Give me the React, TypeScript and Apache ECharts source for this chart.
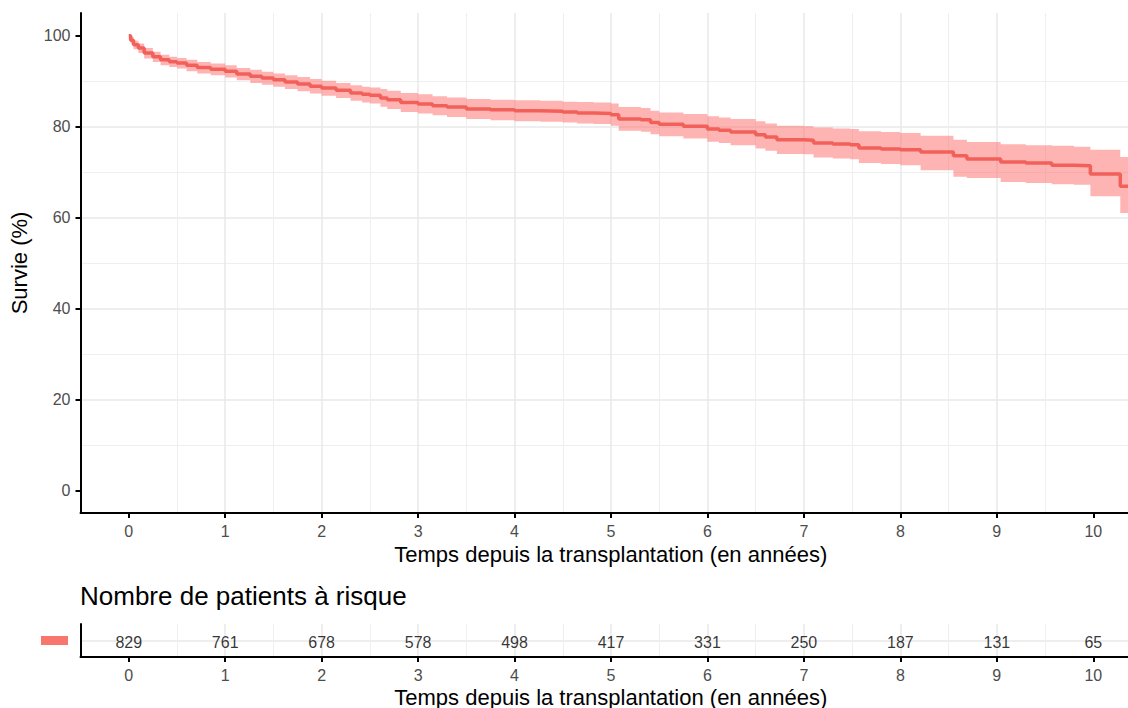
import React, { useEffect, useRef } from 'react';
import * as echarts from 'echarts';

// Kaplan-Meier estimate (%)
const times = [0, 0.02, 0.05, 0.1, 0.16, 0.25, 0.33, 0.42, 0.5, 0.6, 0.71, 0.85, 1.0, 1.12, 1.26, 1.38, 1.5, 1.62, 1.75, 1.88, 2.0, 2.15, 2.3, 2.42, 2.5, 2.61, 2.68, 2.82, 3.0, 3.15, 3.3, 3.5, 3.75, 4.0, 4.27, 4.5, 4.65, 4.82, 5.0, 5.08, 5.31, 5.41, 5.5, 5.75, 6.0, 6.12, 6.24, 6.5, 6.6, 6.72, 7.0, 7.1, 7.3, 7.48, 7.57, 7.8, 8.0, 8.21, 8.55, 8.69, 9.04, 9.3, 9.57, 9.8, 9.97, 10.28, 10.36];
const survival = [100, 99.0, 98.0, 97.3, 96.2, 95.4, 94.7, 94.3, 94.0, 93.5, 93.0, 92.6, 92.2, 91.6, 91.1, 90.7, 90.3, 89.8, 89.4, 88.9, 88.5, 88.0, 87.4, 87.1, 86.9, 86.3, 85.9, 85.3, 85.0, 84.6, 84.3, 83.9, 83.7, 83.5, 83.4, 83.2, 83.0, 82.9, 82.6, 81.7, 81.5, 80.9, 80.5, 80.1, 79.5, 79.2, 78.8, 78.2, 77.7, 77.1, 77.0, 76.4, 76.2, 76.0, 75.3, 75.1, 74.9, 74.4, 73.6, 72.9, 72.2, 72.0, 71.5, 71.4, 69.6, 66.9, 66.9];
const upperCI = [100, 99.7, 98.9, 98.3, 97.3, 96.5, 95.8, 95.4, 95.1, 94.7, 94.2, 93.9, 93.5, 92.9, 92.5, 92.1, 91.7, 91.3, 90.9, 90.5, 90.1, 89.6, 89.1, 88.8, 88.6, 88.3, 87.9, 87.4, 87.1, 86.7, 86.4, 86.1, 85.9, 85.8, 85.7, 85.5, 85.4, 85.3, 85.1, 84.3, 84.1, 83.5, 83.1, 82.8, 82.3, 82.0, 81.7, 81.2, 80.7, 80.2, 80.1, 79.8, 79.6, 79.5, 79.0, 78.8, 78.6, 78.0, 77.1, 76.6, 76.1, 75.9, 75.8, 75.6, 74.9, 73.3, 73.3];
const lowerCI = [100, 98.3, 97.0, 96.2, 95.0, 94.2, 93.5, 93.1, 92.8, 92.2, 91.7, 91.3, 90.8, 90.2, 89.6, 89.2, 88.8, 88.3, 87.8, 87.3, 86.8, 86.3, 85.7, 85.3, 85.1, 84.4, 83.9, 83.2, 82.9, 82.5, 82.1, 81.7, 81.4, 81.2, 81.1, 80.9, 80.7, 80.6, 80.2, 79.1, 78.9, 78.3, 77.9, 77.4, 76.7, 76.4, 75.9, 75.2, 74.7, 74.0, 73.9, 73.2, 73.0, 72.8, 72.0, 71.8, 71.5, 70.4, 69.0, 68.7, 67.8, 67.6, 67.3, 67.2, 64.7, 61.0, 61.0];

// Risk table
const riskTimes = [0, 1, 2, 3, 4, 5, 6, 7, 8, 9, 10];
const atRisk = [829, 761, 678, 578, 498, 417, 331, 250, 187, 131, 65];

// Tick labels
const xTickValues = [0, 1, 2, 3, 4, 5, 6, 7, 8, 9, 10];
const yTickValues = [0, 20, 40, 60, 80, 100];

const FONT = '"Liberation Sans", Arial, Helvetica, sans-serif';
const X_TITLE = 'Temps depuis la transplantation (en années)';
const GRID_COLOR = '#e8e8e8';
const MINOR_COLOR = '#efefef';

function xAxisFor(gridIndex: number) {
  return {
    type: 'value',
    gridIndex,
    min: -0.5,
    max: 10.36,
    splitNumber: 10,
    name: X_TITLE,
    nameLocation: 'middle',
    nameGap: 29,
    nameTextStyle: { fontSize: 22, color: '#000', fontFamily: FONT, padding: [0, 0, 0, 13] },
    axisLine: { show: true, onZero: false, lineStyle: { color: '#000', width: 2 } },
    axisTick: { show: true, length: 5, customValues: xTickValues, lineStyle: { color: '#000', width: 2 } },
    axisLabel: { customValues: xTickValues, color: '#4d4d4d', fontSize: 16, margin: 10, fontFamily: FONT },
    splitLine: { show: true, showMinLine: false, showMaxLine: false, lineStyle: { color: GRID_COLOR, width: 1.5 } },
    minorTick: { show: false, splitNumber: 2 },
    minorSplitLine: { show: true, lineStyle: { color: MINOR_COLOR, width: 1 } },
  };
}

function renderBand(params: any, api: any) {
  if (params.dataIndex !== 0) return null;
  const n = times.length;
  const pts: number[][] = [];
  for (let i = 0; i < n; i++) {
    const next = i < n - 1 ? times[i + 1] : times[i];
    pts.push(api.coord([times[i], upperCI[i]]));
    pts.push(api.coord([next, upperCI[i]]));
  }
  for (let i = n - 1; i >= 0; i--) {
    const next = i < n - 1 ? times[i + 1] : times[i];
    pts.push(api.coord([next, lowerCI[i]]));
    pts.push(api.coord([times[i], lowerCI[i]]));
  }
  return {
    type: 'polygon',
    shape: { points: pts },
    style: { fill: 'rgba(255,105,105,0.5)', stroke: 'none' },
  };
}

export default function App() {
  const ref = useRef<HTMLDivElement>(null);
  useEffect(() => {
    document.body.style.margin = '0';
    const chart = echarts.init(ref.current as HTMLDivElement, null, { renderer: 'svg' });
    const option: any = {
      animation: false,
      backgroundColor: '#ffffff',
      textStyle: { fontFamily: FONT },
      title: {
        text: 'Nombre de patients à risque',
        left: 80,
        top: 583,
        padding: 0,
        textStyle: { fontSize: 26, fontWeight: 'normal', color: '#000', fontFamily: FONT },
      },
      grid: [
        { left: 80.5, right: 0, top: 13, height: 500, containLabel: false, outerBoundsMode: 'none' },
        { left: 80.5, right: 0, top: 624, height: 33, containLabel: false, outerBoundsMode: 'none' },
      ],
      xAxis: [xAxisFor(0), xAxisFor(1)],
      yAxis: [
        {
          type: 'value',
          gridIndex: 0,
          min: -5,
          max: 105,
          splitNumber: 5,
          name: 'Survie (%)',
          nameLocation: 'middle',
          nameGap: 50,
          nameTextStyle: { fontSize: 22, color: '#000', fontFamily: FONT },
          axisLine: { show: true, onZero: false, lineStyle: { color: '#000', width: 2 } },
          axisTick: { show: true, length: 5, customValues: yTickValues, lineStyle: { color: '#000', width: 2 } },
          axisLabel: { customValues: yTickValues, color: '#4d4d4d', fontSize: 16, margin: 10, fontFamily: FONT },
          splitLine: { show: true, showMinLine: false, showMaxLine: false, lineStyle: { color: GRID_COLOR, width: 1.5 } },
          minorTick: { show: false, splitNumber: 2 },
          minorSplitLine: { show: true, lineStyle: { color: MINOR_COLOR, width: 1 } },
        },
        {
          type: 'value',
          gridIndex: 1,
          min: 0,
          max: 2,
          interval: 1,
          axisLine: { show: true, onZero: false, lineStyle: { color: '#000', width: 2 } },
          axisTick: { show: false },
          axisLabel: { show: false },
          splitLine: { show: true, showMinLine: false, showMaxLine: false, lineStyle: { color: GRID_COLOR, width: 1.5 } },
        },
      ],
      graphic: [
        { type: 'rect', shape: { x: 41, y: 636, width: 27, height: 9 }, style: { fill: '#F8766D' } },
      ],
      series: [
        {
          name: 'ci-band',
          type: 'custom',
          xAxisIndex: 0,
          yAxisIndex: 0,
          silent: true,
          clip: true,
          encode: { x: 0, y: [1, 2] },
          renderItem: renderBand,
          data: times.map((t, i) => [t, lowerCI[i], upperCI[i]]),
          z: 1,
        },
        {
          name: 'survie',
          type: 'line',
          xAxisIndex: 0,
          yAxisIndex: 0,
          step: 'end',
          symbol: 'none',
          silent: true,
          lineStyle: { color: '#f2605a', width: 3.5 },
          data: times.map((t, i) => [t, survival[i]]),
          z: 3,
        },
        {
          name: 'risque',
          type: 'scatter',
          xAxisIndex: 1,
          yAxisIndex: 1,
          symbol: 'circle',
          symbolSize: 1,
          silent: true,
          itemStyle: { color: 'rgba(0,0,0,0)' },
          label: {
            show: true,
            position: 'inside',
            offset: [0, 2],
            color: '#000',
            fontSize: 16,
            fontFamily: FONT,
            formatter: (p: any) => String(p.value[2]),
          },
          data: riskTimes.map((t, i) => [t, 1, atRisk[i]]),
          z: 3,
        },
      ],
    };
    chart.setOption(option);
    return () => chart.dispose();
  }, []);
  return <div ref={ref} style={{ width: 1128, height: 708 }} />;
}
